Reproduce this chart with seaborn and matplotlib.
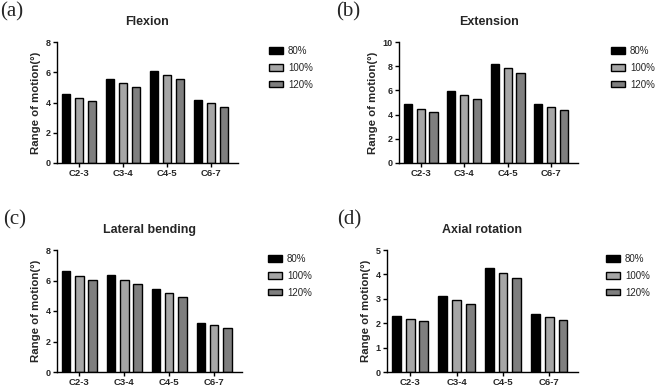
import pandas as pd
import numpy as np
import matplotlib
matplotlib.use("Agg")
import matplotlib.pyplot as plt
import seaborn as sns

# segments and loading groups
segments = ["C2-3", "C3-4", "C4-5", "C6-7"]
groups = ["80%", "100%", "120%"]

# range of motion (deg) per group, one value per segment
flexion = {"80%": [4.54, 5.53, 6.10, 4.17],
           "100%": [4.32, 5.26, 5.79, 3.95],
           "120%": [4.10, 5.00, 5.53, 3.73]}
extension = {"80%": [4.84, 5.96, 8.20, 4.84],
             "100%": [4.50, 5.63, 7.81, 4.62],
             "120%": [4.18, 5.33, 7.40, 4.40]}
lateral = {"80%": [6.62, 6.36, 5.44, 3.22],
           "100%": [6.32, 6.03, 5.20, 3.07],
           "120%": [6.03, 5.75, 4.93, 2.90]}
axial = {"80%": [2.30, 3.10, 4.25, 2.37],
         "100%": [2.19, 2.95, 4.04, 2.26],
         "120%": [2.08, 2.79, 3.84, 2.15]}

titles = ["Flexion", "Extension", "Lateral bending", "Axial rotation"]
letters = ["(a)", "(b)", "(c)", "(d)"]
ymax = [8, 10, 8, 5]
ysteps = [2, 2, 2, 1]

colors = ["#000000", "#a6a6a6", "#7f7f7f"]

W, H = 658, 389
sns.set_style("ticks")
plt.rcParams["font.family"] = ["Liberation Sans", "DejaVu Sans"]

fig = plt.figure(figsize=(W / 100, H / 100), dpi=100)

# axes boxes in pixels: left, right, top, bottom
boxes = [(57, 238, 42, 163), (399, 578, 42, 163),
         (57, 242, 250, 372), (387, 578, 250, 372)]
# legend anchor (x of patch, y of top) in pixels
leg_pos = [(269, 46), (611, 46), (268, 254), (606, 254)]
letter_pos = [(0, 2), (336, 2), (3, 210), (337, 210)]


def make_df(d):
    rows = []
    for g in groups:
        for s, v in zip(segments, d[g]):
            rows.append({"Segment": s, "Group": g, "ROM": v})
    return pd.DataFrame(rows)


datasets = [flexion, extension, lateral, axial]

for i, d in enumerate(datasets):
    l, r, t, b = boxes[i]
    ax = fig.add_axes([l / W, 1 - b / H, (r - l) / W, (b - t) / H])
    df = make_df(d)
    sns.barplot(data=df, x="Segment", y="ROM", hue="Group", hue_order=groups,
                palette=colors, edgecolor="black", linewidth=1.0,
                width=0.885, gap=0.36, ax=ax)
    ax.set_xlim(-0.5, 3.62)
    ax.set_ylim(0, ymax[i])
    ax.set_yticks(np.arange(0, ymax[i] + 0.1, ysteps[i]))
    sns.despine(ax=ax)
    for sp in ["left", "bottom"]:
        ax.spines[sp].set_linewidth(1.0)
        ax.spines[sp].set_color("black")
    ax.tick_params(axis="both", length=3, width=1.0, color="black", pad=1.5)
    ax.tick_params(axis="x", labelsize=6.8)
    ax.tick_params(axis="y", labelsize=6.5)
    for lab in ax.get_xticklabels() + ax.get_yticklabels():
        lab.set_fontweight("bold")
    ax.set_xlabel("")
    ax.set_ylabel("Range of motion(°)", fontsize=8.2, fontweight="bold", labelpad=3)
    ax.set_title(titles[i], fontsize=9, fontweight="bold", pad=12)

    lx, ly = leg_pos[i]
    ax.legend(loc="upper left", bbox_to_anchor=(lx / W, 1 - ly / H),
              bbox_transform=fig.transFigure, frameon=False, fontsize=7.0,
              handlelength=1.45, handleheight=0.65, labelspacing=0.7,
              handletextpad=0.5, borderaxespad=0, borderpad=0)

    fig.text(letter_pos[i][0] / W, 1 - letter_pos[i][1] / H, letters[i],
             family=["Liberation Serif", "DejaVu Serif"], fontsize=15,
             ha="left", va="top")

fig.savefig("out.png", dpi=100)
